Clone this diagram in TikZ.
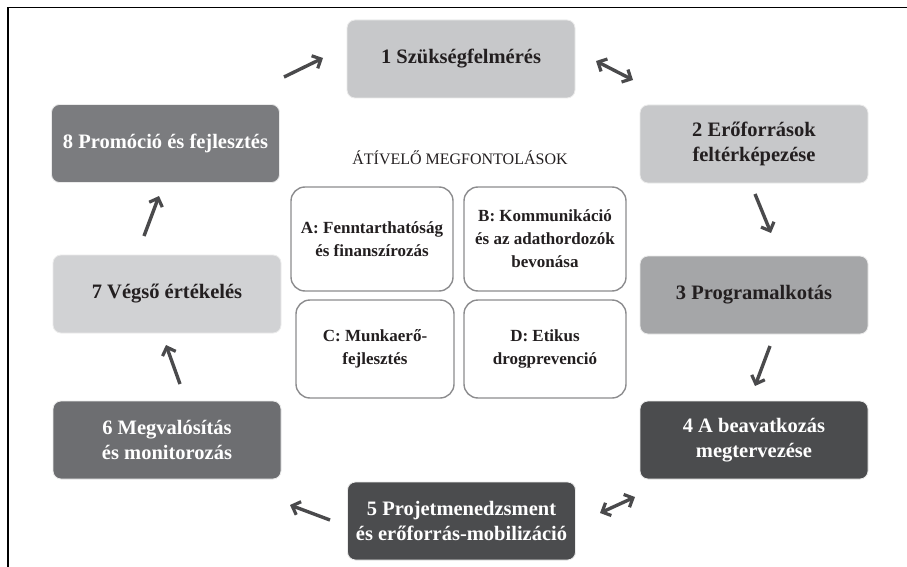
\documentclass[tikz,border=0pt]{standalone}
\usepackage{fontspec}
\setmainfont{Liberation Serif}
\usetikzlibrary{arrows.meta}
\definecolor{lightbox}{HTML}{C7C8CA}
\definecolor{paleBox}{HTML}{D1D2D4}
\definecolor{midbox}{HTML}{A5A6A8}
\definecolor{greybox}{HTML}{7B7C7F}
\definecolor{slatebox}{HTML}{6D6E71}
\definecolor{darkbox}{HTML}{4B4C4E}
\definecolor{inkcol}{HTML}{231F20}
\definecolor{arrowcol}{HTML}{4A4A4C}
\definecolor{inborder}{HTML}{8C8C8E}
\tikzset{
  stage/.style={rounded corners=8pt, minimum width=228pt, minimum height=78pt,
    align=center, font=\fontsize{20.5}{25}\selectfont\bfseries, inner sep=0pt,
    draw=white!92!black, line width=0.8pt},
  lightstage/.style={stage, fill=lightbox, text=inkcol},
  palestage/.style={stage, fill=paleBox, text=inkcol},
  midstage/.style={stage, fill=midbox, text=inkcol},
  greystage/.style={stage, fill=greybox, text=white},
  slatestage/.style={stage, fill=slatebox, text=white},
  darkstage/.style={stage, fill=darkbox, text=white},
  crossbox/.style={rounded corners=14pt, draw=inborder, line width=1.4pt, fill=white,
    minimum width=162pt, minimum height=104pt, align=center, inner sep=0pt,
    font=\fontsize{17}{23}\selectfont\bfseries, text=inkcol},
  flowarrow/.style={draw=arrowcol, line width=3.4pt,
    -{Straight Barb[length=7pt,width=14pt,line width=3.2pt]}},
  bothflow/.style={draw=arrowcol, line width=3.4pt,
    {Straight Barb[length=7pt,width=14pt,line width=3.2pt]}-{Straight Barb[length=7pt,width=14pt,line width=3.2pt]}}
}
\begin{document}
\begin{tikzpicture}[x=1pt,y=-1pt]
\useasboundingbox (0,0) rectangle (907,567);
\fill[white] (0,0) rectangle (907,567);
% frame
\coordinate (fa) at (8,567);
\coordinate (fb) at (8,7.5);
\coordinate (fc) at (907,7.5);
\draw[line width=1.5pt, black] (fa) -- (fb) -- (fc);

% stages
\node[lightstage] (s1) at (461,59) {1 Szükségfelmérés};
\node[lightstage] (s2) at (754,144) {2 Erőforrások\\feltérképezése};
\node[midstage] (s3) at (754,295) {3 Programalkotás};
\node[darkstage] (s4) at (754,440) {4 A beavatkozás\\megtervezése};
\node[darkstage] (s5) at (461.5,521) {5 Projetmenedzsment\\és erőforrás-mobilizáció};
\node[slatestage] (s6) at (167,440) {6 Megvalósítás\\és monitorozás};
\node[palestage] (s7) at (167,294) {7 Végső értékelés};
\node[greystage] (s8) at (165.5,143.5) {8 Promóció és fejlesztés};

% cross-cutting
\node[font=\fontsize{16}{18}\selectfont, text=inkcol] (title) at (460,158) {ÁTÍVELŐ MEGFONTOLÁSOK};
\node[crossbox] (ca) at (372,239) {A: Fenntarthatóság\\és finanszírozás};
\node[crossbox] (cb) at (545,239) {B: Kommunikáció\\és az adathordozók\\bevonása};
\node[crossbox, minimum width=158pt, minimum height=98pt] (cc) at (375,349) {C: Munkaerő-\\fejlesztés};
\node[crossbox, minimum height=98pt] (cd) at (545,349) {D: Etikus\\drogprevenció};

% arrows
\coordinate (a81) at (284,77);
\coordinate (a81h) at (323,58);
\draw[flowarrow] (a81) -- (a81h);
\coordinate (a12) at (596,61);
\coordinate (a12h) at (633,80);
\draw[bothflow] (a12) -- (a12h);
\coordinate (a23) at (755,194);
\coordinate (a23h) at (771,233);
\draw[flowarrow] (a23) -- (a23h);
\coordinate (a34) at (770,346);
\coordinate (a34h) at (755,386);
\draw[flowarrow] (a34) -- (a34h);
\coordinate (a45) at (600,513);
\coordinate (a45h) at (635,497);
\draw[bothflow] (a45) -- (a45h);
\coordinate (a56) at (330,520);
\coordinate (a56h) at (290,505);
\draw[flowarrow] (a56) -- (a56h);
\coordinate (a67) at (180,384);
\coordinate (a67h) at (166,345);
\draw[flowarrow] (a67) -- (a67h);
\coordinate (a78) at (144,236);
\coordinate (a78h) at (159,196);
\draw[flowarrow] (a78) -- (a78h);
\end{tikzpicture}
\end{document}
